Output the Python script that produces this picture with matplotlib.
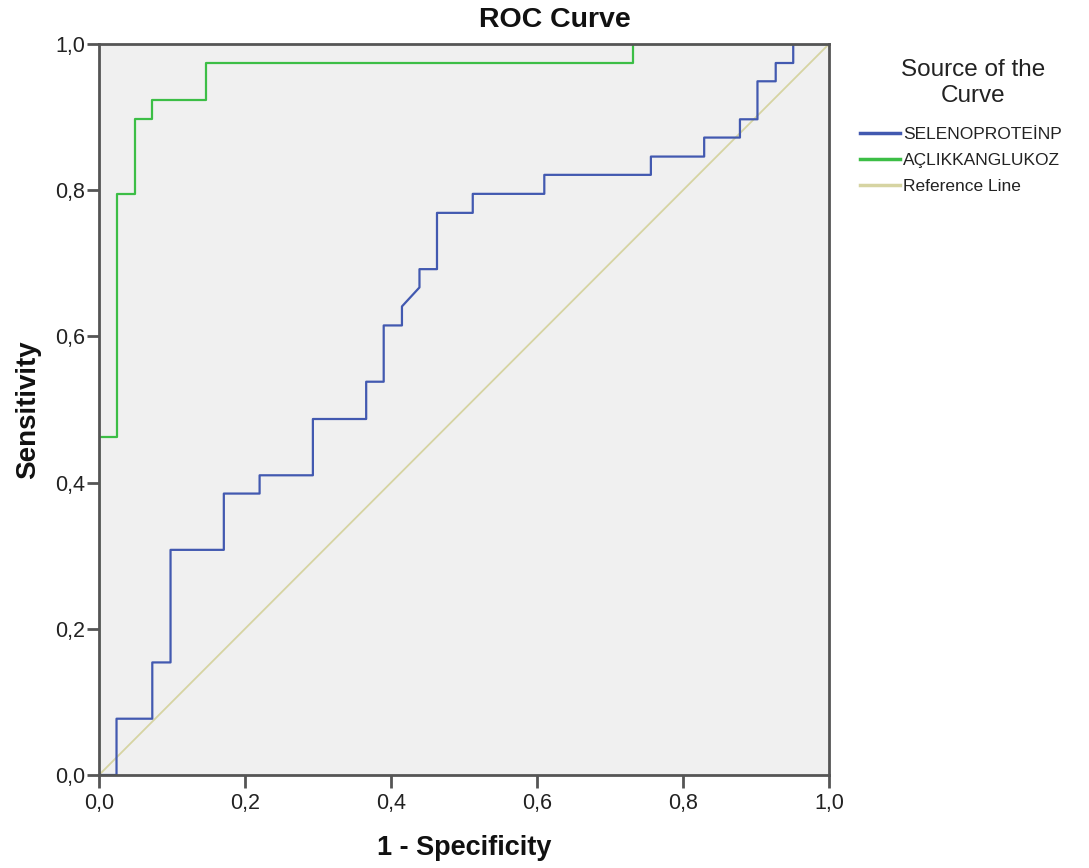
import matplotlib
matplotlib.use("Agg")
import matplotlib.pyplot as plt
from matplotlib.ticker import FuncFormatter

plt.rcParams['font.family'] = ['Liberation Sans', 'DejaVu Sans']

# Data (1 - specificity, sensitivity) step coordinates
selen_fpr = [0.0, 0.024, 0.024, 0.073, 0.073, 0.098, 0.098, 0.171, 0.171, 0.220, 0.220,
             0.293, 0.293, 0.366, 0.366, 0.390, 0.390, 0.415, 0.415, 0.439, 0.439, 0.463,
             0.463, 0.512, 0.512, 0.610, 0.610, 0.756, 0.756, 0.829, 0.829, 0.878, 0.878,
             0.902, 0.902, 0.927, 0.927, 0.951, 0.951, 1.0]
selen_tpr = [0.0, 0.0, 0.077, 0.077, 0.154, 0.154, 0.308, 0.308, 0.385, 0.385, 0.410,
             0.410, 0.487, 0.487, 0.538, 0.538, 0.615, 0.615, 0.641, 0.667, 0.692, 0.692,
             0.769, 0.769, 0.795, 0.795, 0.821, 0.821, 0.846, 0.846, 0.872, 0.872, 0.897,
             0.897, 0.949, 0.949, 0.974, 0.974, 1.0, 1.0]

glu_fpr = [0.0, 0.0, 0.024, 0.024, 0.049, 0.049, 0.073, 0.073, 0.146, 0.146, 0.732, 0.732, 1.0]
glu_tpr = [0.0, 0.462, 0.462, 0.795, 0.795, 0.897, 0.897, 0.923, 0.923, 0.974, 0.974, 1.0, 1.0]

ref_x = [0.0, 1.0]
ref_y = [0.0, 1.0]

series_names = ["SELENOPROTEİNP", "AÇLIKKANGLUKOZ", "Reference Line"]
ticks = [0.0, 0.2, 0.4, 0.6, 0.8, 1.0]

fig = plt.figure(figsize=(10.89, 8.68), dpi=100)
ax = fig.add_axes([99/1089, 93/868, 730/1089, 731/868])
ax.set_facecolor('#F0F0F0')

ax.plot(ref_x, ref_y, color='#D6D4A2', lw=1.3, label=series_names[2], zorder=2)
ax.plot(selen_fpr, selen_tpr, color='#4259B0', lw=1.6, label=series_names[0], zorder=3)
ax.plot(glu_fpr, glu_tpr, color='#3CBE46', lw=1.6, label=series_names[1], zorder=3)

ax.set_xlim(0, 1)
ax.set_ylim(0, 1)
ax.set_xticks(ticks)
ax.set_yticks(ticks)
fmt = FuncFormatter(lambda v, p: f"{v:.1f}".replace('.', ','))
ax.xaxis.set_major_formatter(fmt)
ax.yaxis.set_major_formatter(fmt)
ax.tick_params(axis='both', direction='out', length=9, width=2, color='#555555',
               labelsize=15.5, labelcolor='#222222')
ax.tick_params(axis='y', pad=1)
ax.tick_params(axis='x', pad=4)

for s in ax.spines.values():
    s.set_color('#555555')
    s.set_linewidth(2)
    s.set_zorder(4)

fig.text(555/1089, 1 - 20/868, "ROC Curve", fontsize=20.5, fontweight='bold',
         ha='center', va='center', color='#111111')
ax.set_xlabel("1 - Specificity", fontsize=19.5, fontweight='bold', labelpad=15,
              color='#111111')
ax.set_ylabel("Sensitivity", fontsize=20, fontweight='bold', labelpad=10,
              color='#111111')

fig.text(973/1089, 1 - 83/868, "Source of the\nCurve", fontsize=17.5,
         ha='center', va='center', multialignment='center', linespacing=1.2,
         color='#222222')

handles, labels = ax.get_legend_handles_labels()
order = [1, 2, 0]
leg = fig.legend([handles[i] for i in order], [labels[i] for i in order],
                 loc='upper left', bbox_to_anchor=(860/1089, 1 - 127/868),
                 bbox_transform=fig.transFigure, frameon=False, fontsize=12.5,
                 handlelength=2.3, handletextpad=0.2, labelspacing=0.62,
                 borderaxespad=0, borderpad=0)
for t in leg.get_texts():
    t.set_color('#222222')
for l in leg.get_lines():
    l.set_linewidth(2.5)

fig.savefig("out.png", dpi=100)
